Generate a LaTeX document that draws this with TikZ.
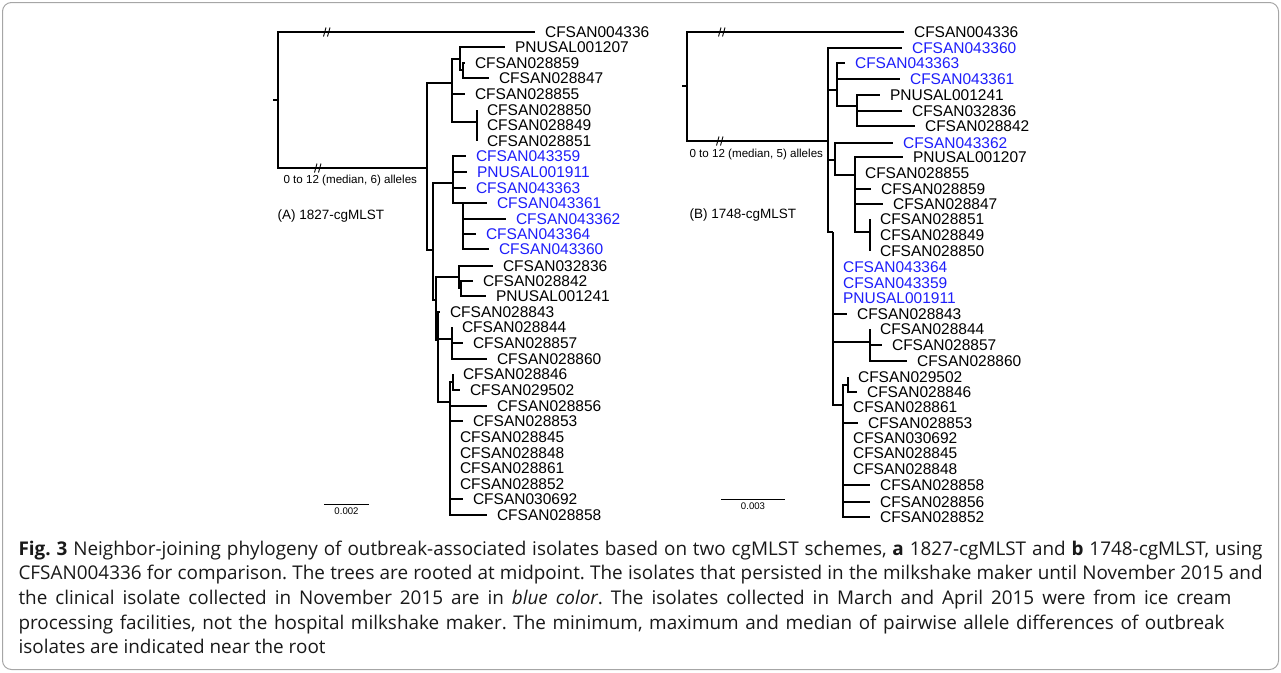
\documentclass[tikz,border=0pt]{standalone}
\usepackage{fontspec}
\setmainfont{Liberation Sans}
\newfontfamily\capfont{Open Sans}
\definecolor{isoblue}{RGB}{30,30,250}
\newcommand\lbl{\fontsize{15.5}{17}\selectfont}
\frenchspacing
\tikzset{
  leaf/.style={anchor=west,inner xsep=9.5pt,inner ysep=0pt,font=\lbl},
  iso/.style={leaf,text=isoblue},
  note/.style={anchor=west,inner sep=0pt,font=\fontsize{11.6}{13}\selectfont},
  ttl/.style={anchor=west,inner sep=0pt,font=\fontsize{13.5}{15}\selectfont},
  scl/.style={below=3.5pt,inner sep=0pt,font=\fontsize{9.6}{11}\selectfont},
  captxt/.style={anchor=base west,inner sep=0pt,font=\capfont\fontsize{18.9}{22}\selectfont\frenchspacing,text=black!90},
  brk/.pic={\draw[line width=0.9pt] (-3.5,4.5) -- (-1,-4.5) (0.5,4.5) -- (3,-4.5);}
}
\begin{document}
\begin{tikzpicture}[x=1pt,y=-1pt,line width=1.1pt]
 \useasboundingbox (0,0) rectangle (1281,672);
 \draw[gray!70,line width=1pt,rounded corners=9pt] (2.5,2.5) rectangle (1278.5,669.5);
 % tree (A)
 \coordinate (as) at (273,100);
 \coordinate (ar) at (278,100);
 \coordinate (a1) at (427,168);
 \coordinate (a2) at (452,83);
 \coordinate (a3) at (460,59);
 \coordinate (a4) at (463,70);
 \coordinate (a5) at (477,122);
 \coordinate (a6) at (433,250);
 \coordinate (a7) at (453,183);
 \coordinate (a8) at (463,203);
 \coordinate (a9) at (436,300);
 \coordinate (a10) at (459,277);
 \coordinate (a11) at (461,288);
 \coordinate (a12) at (438,340);
 \coordinate (a13) at (452,339);
 \coordinate (a14) at (450,402);
 \coordinate (a15) at (453,382);
 \node[leaf] (A004336) at (535,32) {CFSAN004336};
 \node[leaf] (A001207) at (505,47) {PNUSAL001207};
 \node[leaf] (A028859) at (465,63) {CFSAN028859};
 \node[leaf] (A028847) at (489,78) {CFSAN028847};
 \node[leaf] (A028855) at (465,94) {CFSAN028855};
 \node[leaf] (A028850) at (477,110) {CFSAN028850};
 \node[leaf] (A028849) at (477,125) {CFSAN028849};
 \node[leaf] (A028851) at (477,141) {CFSAN028851};
 \node[iso] (A043359) at (466,156) {CFSAN043359};
 \node[iso] (A001911) at (467,172) {PNUSAL001911};
 \node[iso] (A043363) at (466,188) {CFSAN043363};
 \node[iso] (A043361) at (487,203) {CFSAN043361};
 \node[iso] (A043362) at (506,219) {CFSAN043362};
 \node[iso] (A043364) at (476,234) {CFSAN043364};
 \node[iso] (A043360) at (489,249) {CFSAN043360};
 \node[leaf] (A032836) at (493,266) {CFSAN032836};
 \node[leaf] (A028842) at (473,281) {CFSAN028842};
 \node[leaf] (A001241) at (486,296) {PNUSAL001241};
 \node[leaf] (A028843) at (440,312) {CFSAN028843};
 \node[leaf] (A028844) at (452,327) {CFSAN028844};
 \node[leaf] (A028857) at (463,343) {CFSAN028857};
 \node[leaf] (A028860) at (487,359) {CFSAN028860};
 \node[leaf] (A028846) at (453,374) {CFSAN028846};
 \node[leaf] (A029502) at (460,390) {CFSAN029502};
 \node[leaf] (A028856) at (487,406) {CFSAN028856};
 \node[leaf] (A028853) at (463,421) {CFSAN028853};
 \node[leaf] (A028845) at (450,437) {CFSAN028845};
 \node[leaf] (A028848) at (450,453) {CFSAN028848};
 \node[leaf] (A028861) at (450,468) {CFSAN028861};
 \node[leaf] (A028852) at (450,484) {CFSAN028852};
 \node[leaf] (A030692) at (463,499) {CFSAN030692};
 \node[leaf] (A028858) at (487,515) {CFSAN028858};
 \draw (as) -- (ar);
 \draw (ar) |- (A004336.west) (ar) |- (a1);
 \draw (a1) |- (a2) (a1) |- (a6);
 \draw (a2) |- (a3) (a2) |- (A028855.west) (a2) |- (a5);
 \draw (a3) |- (A001207.west) (a3) |- (a4);
 \draw (a4) |- (A028859.west) (a4) |- (A028847.west);
 \draw (a5) |- (A028850.west) (a5) |- (A028849.west) (a5) |- (A028851.west);
 \draw (a6) |- (a7) (a6) |- (a9);
 \draw (a7) |- (A043359.west) (a7) |- (A001911.west) (a7) |- (A043363.west) (a7) |- (a8);
 \draw (a8) |- (A043361.west) (a8) |- (A043362.west) (a8) |- (A043364.west) (a8) |- (A043360.west);
 \draw (a9) |- (a10) (a9) |- (a12);
 \draw (a10) |- (A032836.west) (a10) |- (a11);
 \draw (a11) |- (A028842.west) (a11) |- (A001241.west);
 \draw (a12) |- (A028843.west) (a12) |- (a13) (a12) |- (a14);
 \draw (a13) |- (A028844.west) (a13) |- (A028857.west) (a13) |- (A028860.west);
 \draw (a14) |- (a15) (a14) |- (A028856.west) (a14) |- (A028853.west) (a14) |- (A028845.west)
       (a14) |- (A028848.west) (a14) |- (A028861.west) (a14) |- (A028852.west)
       (a14) |- (A030692.west) (a14) |- (A028858.west);
 \draw (a15) |- (A028846.west) (a15) |- (A029502.west);
 \pic at (327,32) {brk};
 \pic at (318,168) {brk};
 \node[note] (anA) at (283,180) {0 to 12 (median, 6) alleles};
 \node[ttl] (ttA) at (277,216) {(A) 1827-cgMLST};
 \coordinate (sa0) at (324,504);
 \coordinate (sa1) at (369,504);
 \draw[line width=1pt] (sa0) -- (sa1) node[midway,scl] (slA) {0.002};
 % tree (B)
 \coordinate (bs) at (682,86);
 \coordinate (br) at (687,86);
 \coordinate (b1) at (828,141);
 \coordinate (b2) at (837,90);
 \coordinate (b3) at (857,106);
 \coordinate (b4) at (835,160);
 \coordinate (b5) at (855,175);
 \coordinate (b6) at (870,232);
 \coordinate (b7) at (833,232);
 \coordinate (b8) at (870,342);
 \coordinate (b9) at (843,405);
 \coordinate (b10) at (848,385);
 \node[leaf] (B004336) at (904,32) {CFSAN004336};
 \node[iso] (B043360) at (902,48) {CFSAN043360};
 \node[iso] (B043363) at (845,63) {CFSAN043363};
 \node[iso] (B043361) at (900,79) {CFSAN043361};
 \node[leaf] (B001241) at (880,95) {PNUSAL001241};
 \node[leaf] (B032836) at (902,111) {CFSAN032836};
 \node[leaf] (B028842) at (915,126) {CFSAN028842};
 \node[iso] (B043362) at (893,143) {CFSAN043362};
 \node[leaf] (B001207) at (903,157) {PNUSAL001207};
 \node[leaf] (B028855) at (855,173) {CFSAN028855};
 \node[leaf] (B028859) at (871,189) {CFSAN028859};
 \node[leaf] (B028847) at (883,204) {CFSAN028847};
 \node[leaf] (B028851) at (870,219) {CFSAN028851};
 \node[leaf] (B028849) at (870,235) {CFSAN028849};
 \node[leaf] (B028850) at (870,251) {CFSAN028850};
 \node[iso] (B043364) at (833,267) {CFSAN043364};
 \node[iso] (B043359) at (833,283) {CFSAN043359};
 \node[iso] (B001911) at (833,298) {PNUSAL001911};
 \node[leaf] (B028843) at (847,314) {CFSAN028843};
 \node[leaf] (B028844) at (870,329) {CFSAN028844};
 \node[leaf] (B028857) at (882,345) {CFSAN028857};
 \node[leaf] (B028860) at (907,361) {CFSAN028860};
 \node[leaf] (B029502) at (848,377) {CFSAN029502};
 \node[leaf] (B028846) at (857,392) {CFSAN028846};
 \node[leaf] (B028861) at (843,407) {CFSAN028861};
 \node[leaf] (B028853) at (858,423) {CFSAN028853};
 \node[leaf] (B030692) at (843,438) {CFSAN030692};
 \node[leaf] (B028845) at (843,453) {CFSAN028845};
 \node[leaf] (B028848) at (843,469) {CFSAN028848};
 \node[leaf] (B028858) at (870,485) {CFSAN028858};
 \node[leaf] (B028856) at (870,502) {CFSAN028856};
 \node[leaf] (B028852) at (870,517) {CFSAN028852};
 \draw (bs) -- (br);
 \draw (br) |- (B004336.west) (br) |- (b1);
 \draw (b1) |- (B043360.west) (b1) |- (b2) (b1) |- (b4) (b1) |- (b7);
 \draw (b2) |- (B043363.west) (b2) |- (B043361.west) (b2) |- (b3);
 \draw (b3) |- (B001241.west) (b3) |- (B032836.west) (b3) |- (B028842.west);
 \draw (b4) |- (B043362.west) (b4) |- (b5);
 \draw (b5) |- (B001207.west) (b5) |- (B028855.west) (b5) |- (B028859.west) (b5) |- (B028847.west) (b5) |- (b6);
 \draw (b6) |- (B028851.west) (b6) |- (B028849.west) (b6) |- (B028850.west);
 \draw (b7) |- (B043364.west) (b7) |- (B043359.west) (b7) |- (B001911.west) (b7) |- (B028843.west)
       (b7) |- (b8) (b7) |- (b9);
 \draw (b8) |- (B028844.west) (b8) |- (B028857.west) (b8) |- (B028860.west);
 \draw (b9) |- (b10) (b9) |- (B028861.west) (b9) |- (B028853.west) (b9) |- (B030692.west)
       (b9) |- (B028845.west) (b9) |- (B028848.west) (b9) |- (B028858.west)
       (b9) |- (B028856.west) (b9) |- (B028852.west);
 \draw (b10) |- (B029502.west) (b10) |- (B028846.west);
 \pic at (722,32) {brk};
 \pic at (720,141) {brk};
 \node[note] (anB) at (689,154) {0 to 12 (median, 5) alleles};
 \node[ttl] (ttB) at (689,215) {(B) 1748-cgMLST};
 \coordinate (sb0) at (721,499);
 \coordinate (sb1) at (785,499);
 \draw[line width=1pt] (sb0) -- (sb1) node[midway,scl] (slB) {0.003};
 % caption
 \node[captxt] (l1) at (18,555) {\makebox[1244pt][s]{\textbf{Fig. 3} Neighbor-joining phylogeny of outbreak-associated isolates based on two cgMLST schemes, \textbf{a} 1827-cgMLST and \textbf{b} 1748-cgMLST, using}};
 \node[captxt] (l2) at (18,579.5) {\makebox[1244pt][s]{CFSAN004336 for comparison. The trees are rooted at midpoint. The isolates that persisted in the milkshake maker until November 2015 and}};
 \node[captxt] (l3) at (18,604) {\makebox[1213pt][s]{the clinical isolate collected in November 2015 are in \textit{blue color}. The isolates collected in March and April 2015 were from ice cream}};
 \node[captxt] (l4) at (18,629) {\makebox[1206pt][s]{processing facilities, not the hospital milkshake maker. The minimum, maximum and median of pairwise allele differences of outbreak}};
 \node[captxt] (l5) at (18,653.5) {isolates are indicated near the root};
\end{tikzpicture}
\end{document}
